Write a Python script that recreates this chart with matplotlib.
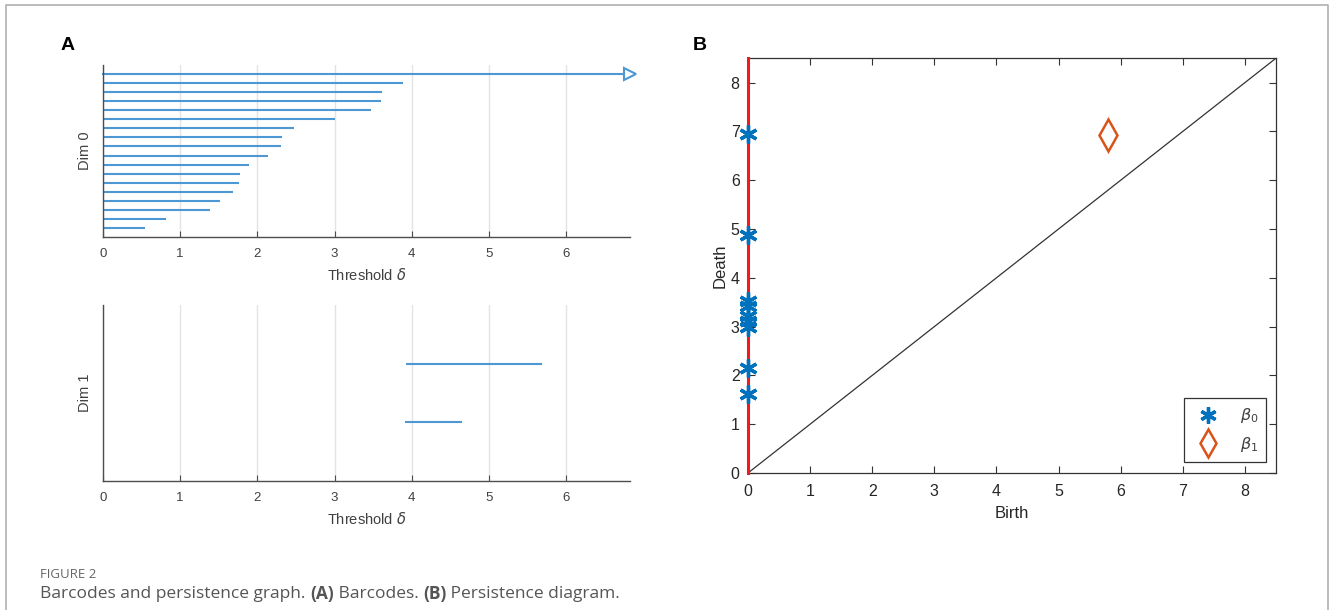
import matplotlib
matplotlib.use("Agg")
import matplotlib.pyplot as plt
import numpy as np

# ---------------- data ----------------
# Dim 0 barcode: death thresholds (birth = 0), bottom to top; last is infinite
dim0_death = [0.54, 0.82, 1.39, 1.52, 1.68, 1.76, 1.77, 1.89, 2.14,
              2.30, 2.32, 2.48, 3.00, 3.47, 3.60, 3.61, 3.88]
dim0_inf_end = 6.83
# Dim 1 barcode: (birth, death), bottom to top
dim1_birth = [3.91, 3.93]
dim1_death = [4.65, 5.68]
# Persistence diagram
beta0_birth = [0, 0, 0, 0, 0, 0, 0, 0, 0]
beta0_death = [6.95, 4.87, 3.52, 3.42, 3.22, 3.12, 3.00, 2.15, 1.62]
beta1_birth = [5.80]
beta1_death = [6.93]
xticks_a = [0, 1, 2, 3, 4, 5, 6]
ticks_b = [0, 1, 2, 3, 4, 5, 6, 7, 8]

BAR = "#4d97d3"
BLUE = "#0072BD"
ORANGE = "#D95319"
GRAY = "#4d4d4d"

plt.rcParams['font.family'] = ['Liberation Sans', 'DejaVu Sans']

fig = plt.figure(figsize=(13.3, 6.1), dpi=100)

# figure border
fig.add_artist(plt.Line2D([0.0045, 0.0045, 0.9985, 0.9985], [0.0, 0.9915, 0.9915, 0.0],
                          transform=fig.transFigure, color="#b0b0b0", lw=1.2))

def style_a(ax):
    for s in ['top', 'right']:
        ax.spines[s].set_visible(False)
    for s in ['left', 'bottom']:
        ax.spines[s].set_color(GRAY)
        ax.spines[s].set_linewidth(1.0)
    ax.set_xlim(0, 6.82)
    ax.set_xticks(xticks_a)
    ax.set_yticks([])
    ax.tick_params(axis='x', direction='in', length=4, color=GRAY, labelsize=9.5,
                   labelcolor="#404040", pad=8)
    ax.grid(axis='x', color="#e3e3e3", lw=1.0)
    ax.set_axisbelow(True)
    ax.set_xlabel(r"Threshold $\delta$", fontsize=10.5, color="#404040", labelpad=5)

# ---------- Panel A top ----------
ax1 = fig.add_axes([0.0774, 0.6115, 0.396, 0.282])
style_a(ax1)
n0 = len(dim0_death)
for i, d in enumerate(dim0_death):
    ax1.plot([0, d], [i + 1, i + 1], color=BAR, lw=1.5, solid_capstyle='butt')
ax1.plot([0, dim0_inf_end], [n0 + 1, n0 + 1], color=BAR, lw=1.5, clip_on=False)
ax1.plot([dim0_inf_end], [n0 + 1], marker='>', ms=8, mfc='white', mec=BAR, mew=1.5,
         clip_on=False, ls='none')
ax1.set_ylim(0, n0 + 2)
ax1.set_ylabel("Dim 0", fontsize=10.5, color="#404040", labelpad=8)

# ---------- Panel A bottom ----------
ax2 = fig.add_axes([0.0774, 0.2115, 0.396, 0.2885])
style_a(ax2)
for i, (b, d) in enumerate(zip(dim1_birth, dim1_death)):
    ax2.plot([b, d], [i + 1, i + 1], color=BAR, lw=1.5, solid_capstyle='butt')
ax2.set_ylim(0, len(dim1_birth) + 1)
ax2.set_ylabel("Dim 1", fontsize=10.5, color="#404040", labelpad=8)

# ---------- Panel B ----------
ax3 = fig.add_axes([0.5624, 0.2246, 0.397, 0.680])
ax3.set_xlim(0, 8.5)
ax3.set_ylim(0, 8.5)
ax3.plot([0, 8.5], [0, 8.5], color="#333333", lw=0.9)
ax3.plot([0, 0], [0, 8.5], color="#ee1c1c", lw=2.2, clip_on=False, zorder=3)
ax3.plot(beta0_birth, beta0_death, ls='none', marker=(6, 2, 0), ms=13, mew=2.4,
         color=BLUE, label=r"$\mathit{\beta}_{\mathit{0}}$", clip_on=False, zorder=4)
ax3.plot(beta1_birth, beta1_death, ls='none', marker='d', ms=16, mew=1.8,
         mfc='none', mec=ORANGE, label=r"$\mathit{\beta}_{\mathit{1}}$", zorder=4)
ax3.set_xticks(ticks_b)
ax3.set_yticks(ticks_b)
ax3.tick_params(direction='in', length=5, top=True, right=True, color="#333333",
                labelsize=11.5, labelcolor="#262626")
ax3.tick_params(axis='x', pad=8)
ax3.tick_params(axis='y', pad=6)
for s in ax3.spines.values():
    s.set_color("#333333")
    s.set_linewidth(0.9)
ax3.set_xlabel("Birth", fontsize=12, color="#262626", labelpad=5)
ax3.set_ylabel("Death", fontsize=12, color="#262626", labelpad=2)
leg = ax3.legend(loc='lower right', bbox_to_anchor=(0.982, 0.027), fontsize=11.5,
                 fancybox=False, edgecolor="#333333", framealpha=1, borderaxespad=0,
                 handletextpad=1.0, borderpad=0.5, labelspacing=0.6, markerscale=0.9)
leg.get_frame().set_linewidth(0.9)
for t in leg.get_texts():
    t.set_color("#404040")

# ---------- panel letters ----------
fig.text(68 / 1330, 1 - 46 / 610, "A", fontsize=14, fontweight='bold', va='center', ha='center',
         family=['Liberation Sans'])
fig.text(700 / 1330, 1 - 46 / 610, "B", fontsize=14, fontweight='bold', va='center', ha='center',
         family=['Liberation Sans'])

# ---------- caption ----------
fig.text(40 / 1330, 1 - 574 / 610, "FIGURE 2", fontsize=9.5, color="#666666", va='center',
         family=['Open Sans', 'DejaVu Sans'])
cap_y = 1 - 594 / 610
parts = [("Barcodes and persistence graph. ", 'normal'), ("(A)", 'bold'),
         (" Barcodes. ", 'normal'), ("(B)", 'bold'), (" Persistence diagram.", 'normal')]
renderer = fig.canvas.get_renderer()
x = 40 / 1330
for txt, w in parts:
    t = fig.text(x, cap_y, txt, fontsize=12.5, color="#555555", fontweight=w, va='center',
                 family=['Open Sans', 'DejaVu Sans'])
    bb = t.get_window_extent(renderer=renderer)
    x += bb.width / fig.bbox.width

fig.savefig("out.png", dpi=100)
